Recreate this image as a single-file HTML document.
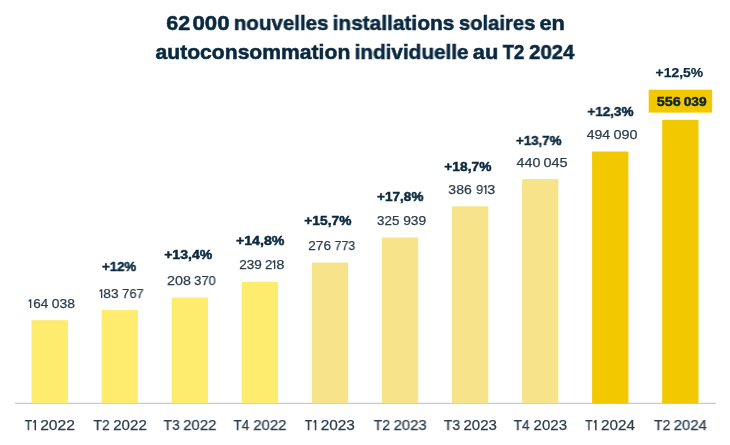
<!DOCTYPE html><html><head><meta charset="utf-8"><style>
html,body{margin:0;padding:0;background:#fff;width:730px;height:445px;overflow:hidden;position:relative}
.t{position:absolute;white-space:pre;line-height:1;font-family:"Liberation Sans",sans-serif;transform-origin:0 0;will-change:transform}
.b{position:absolute}
#w{position:absolute;left:0;top:0;width:730px;height:445px;background:#fff;filter:blur(0.3px)}
</style></head><body><div id="w">
<svg class="b" style="left:0;top:0" width="730" height="445" viewBox="0 0 730 445">
<rect x="15" y="402.8" width="701" height="1.2" fill="#c8c8c8"/>
<rect x="31.55" y="320.18" width="36.30" height="83.07" fill="#FDEC6E"/>
<rect x="101.62" y="310.10" width="36.30" height="93.15" fill="#FDEC6E"/>
<rect x="171.69" y="297.52" width="36.30" height="105.73" fill="#FDEC6E"/>
<rect x="241.76" y="281.76" width="36.30" height="121.49" fill="#FDEC6E"/>
<rect x="311.83" y="262.57" width="36.30" height="140.68" fill="#F7E48A"/>
<rect x="381.90" y="237.45" width="36.30" height="165.80" fill="#F7E48A"/>
<rect x="451.97" y="206.29" width="36.30" height="196.96" fill="#F7E48A"/>
<rect x="522.04" y="179.14" width="36.30" height="224.11" fill="#F7E48A"/>
<rect x="592.11" y="151.52" width="36.30" height="251.73" fill="#F2C800"/>
<rect x="662.18" y="119.86" width="36.30" height="283.39" fill="#F2C800"/>
<rect x="648.7" y="89.7" width="63.5" height="22.9" fill="#F2C800"/>
<path d="M34.55 420.1H36.05V430.3H34.55V422.3L33.25 423.1V421.5Z" fill="#2c3e4c"/>
<path d="M314.83 420.1H316.33V430.3H314.83V422.3L313.53 423.1V421.5Z" fill="#2c3e4c"/>
<path d="M595.11 420.1H596.61V430.3H595.11V422.3L593.81 423.1V421.5Z" fill="#2c3e4c"/>
<path d="M29.95 299.24H31.30V308.05H29.95V301.14L28.50 301.84V300.54Z" fill="#2c3e4a"/>
<path d="M100.95 289.24H102.30V298.06H100.95V291.14L99.50 291.84V290.54Z" fill="#2c3e4a"/>
<path d="M273.95 260.26H275.30V269.11H273.95V262.16L272.50 262.86V261.56Z" fill="#2c3e4a"/>
<path d="M485.15 185.20H486.50V194.03H485.15V187.10L483.70 187.80V186.50Z" fill="#2c3e4a"/>
</svg>
<div class="t" style="left:166px;top:12.15px;font-size:21.00px;font-weight:700;color:#0a2940;transform:translateX(0.249px) scaleX(1.0216);-webkit-text-stroke:0.55px #0a2940">62</div>
<div class="t" style="left:192px;top:12.15px;font-size:21.00px;font-weight:700;color:#0a2940;transform:translateX(0.420px) scaleX(1.0587);-webkit-text-stroke:0.55px #0a2940">000</div>
<div class="t" style="left:233px;top:12.15px;font-size:21.00px;font-weight:700;color:#0a2940;transform:translateX(0.815px) scaleX(0.9765);-webkit-text-stroke:0.55px #0a2940">nouvelles</div>
<div class="t" style="left:332px;top:12.15px;font-size:21.00px;font-weight:700;color:#0a2940;transform:translateX(0.573px) scaleX(0.9942);-webkit-text-stroke:0.55px #0a2940">installations</div>
<div class="t" style="left:458px;top:12.15px;font-size:21.00px;font-weight:700;color:#0a2940;transform:translateX(0.928px) scaleX(0.9628);-webkit-text-stroke:0.55px #0a2940">solaires</div>
<div class="t" style="left:539px;top:12.15px;font-size:21.00px;font-weight:700;color:#0a2940;transform:translateX(0.390px) scaleX(1.0371);-webkit-text-stroke:0.55px #0a2940">en</div>
<div class="t" style="left:155px;top:40.65px;font-size:21.00px;font-weight:700;color:#0a2940;transform:translateX(0.490px) scaleX(1.0058);-webkit-text-stroke:0.55px #0a2940">autoconsommation</div>
<div class="t" style="left:354px;top:40.65px;font-size:21.00px;font-weight:700;color:#0a2940;transform:translateX(0.583px) scaleX(0.9865);-webkit-text-stroke:0.55px #0a2940">individuelle</div>
<div class="t" style="left:472px;top:40.65px;font-size:21.00px;font-weight:700;color:#0a2940;transform:translateX(0.783px) scaleX(1.0430);-webkit-text-stroke:0.55px #0a2940">au</div>
<div class="t" style="left:502px;top:40.65px;font-size:21.00px;font-weight:700;color:#0a2940;transform:translateX(0.660px) scaleX(0.8840);-webkit-text-stroke:0.55px #0a2940">T2</div>
<div class="t" style="left:529px;top:40.65px;font-size:21.00px;font-weight:700;color:#0a2940;transform:translateX(0.130px) scaleX(0.9695);-webkit-text-stroke:0.55px #0a2940">2024</div>
<div class="t" style="left:33px;top:296.51px;font-size:13.29px;font-weight:400;color:#2c3e4a;transform:translateX(0.183px) scaleX(1.0143);-webkit-text-stroke:0.25px #2c3e4a">64</div>
<div class="t" style="left:51px;top:296.51px;font-size:13.29px;font-weight:400;color:#2c3e4a;transform:translateX(0.653px) scaleX(1.0476);-webkit-text-stroke:0.25px #2c3e4a">038</div>
<div class="t" style="left:103px;top:287.01px;font-size:13.29px;font-weight:400;color:#2c3e4a;transform:translateX(0.306px) scaleX(1.0370);-webkit-text-stroke:0.25px #2c3e4a">83</div>
<div class="t" style="left:122px;top:287.01px;font-size:13.29px;font-weight:400;color:#2c3e4a;transform:translateX(0.054px) scaleX(0.9732);-webkit-text-stroke:0.25px #2c3e4a">767</div>
<div class="t" style="left:167px;top:273.81px;font-size:13.29px;font-weight:400;color:#2c3e4a;transform:translateX(0.062px) scaleX(1.0804);-webkit-text-stroke:0.25px #2c3e4a">208</div>
<div class="t" style="left:194px;top:273.81px;font-size:13.29px;font-weight:400;color:#2c3e4a;transform:translateX(0.129px) scaleX(0.9744);-webkit-text-stroke:0.25px #2c3e4a">370</div>
<div class="t" style="left:239px;top:258.31px;font-size:13.29px;font-weight:400;color:#2c3e4a;transform:translateX(0.211px) scaleX(1.0204);-webkit-text-stroke:0.25px #2c3e4a">239</div>
<div class="t" style="left:265px;top:258.31px;font-size:13.29px;font-weight:400;color:#2c3e4a;transform:translateX(0.130px) scaleX(0.9863);-webkit-text-stroke:0.25px #2c3e4a">2</div>
<div class="t" style="left:276px;top:258.31px;font-size:13.29px;font-weight:400;color:#2c3e4a;transform:translateX(0.308px) scaleX(1.1197);-webkit-text-stroke:0.25px #2c3e4a">8</div>
<div class="t" style="left:308px;top:238.61px;font-size:13.29px;font-weight:400;color:#2c3e4a;transform:translateX(0.315px) scaleX(1.0224);-webkit-text-stroke:0.25px #2c3e4a">276</div>
<div class="t" style="left:334px;top:238.61px;font-size:13.29px;font-weight:400;color:#2c3e4a;transform:translateX(0.560px) scaleX(0.9310);-webkit-text-stroke:0.25px #2c3e4a">773</div>
<div class="t" style="left:377px;top:213.81px;font-size:13.29px;font-weight:400;color:#2c3e4a;transform:translateX(0.033px) scaleX(1.0066);-webkit-text-stroke:0.25px #2c3e4a">325</div>
<div class="t" style="left:403px;top:213.81px;font-size:13.29px;font-weight:400;color:#2c3e4a;transform:translateX(0.160px) scaleX(1.0401);-webkit-text-stroke:0.25px #2c3e4a">939</div>
<div class="t" style="left:448px;top:182.61px;font-size:13.29px;font-weight:400;color:#2c3e4a;transform:translateX(0.350px) scaleX(1.0560);-webkit-text-stroke:0.25px #2c3e4a">386</div>
<div class="t" style="left:476px;top:182.61px;font-size:13.29px;font-weight:400;color:#2c3e4a;transform:translateX(0.199px) scaleX(0.9472);-webkit-text-stroke:0.25px #2c3e4a">9</div>
<div class="t" style="left:487px;top:182.61px;font-size:13.29px;font-weight:400;color:#2c3e4a;transform:translateX(0.307px) scaleX(1.0797);-webkit-text-stroke:0.25px #2c3e4a">3</div>
<div class="t" style="left:516px;top:155.51px;font-size:13.29px;font-weight:400;color:#2c3e4a;transform:translateX(0.621px) scaleX(1.0747);-webkit-text-stroke:0.25px #2c3e4a">440</div>
<div class="t" style="left:543px;top:155.51px;font-size:13.29px;font-weight:400;color:#2c3e4a;transform:translateX(0.415px) scaleX(1.0881);-webkit-text-stroke:0.25px #2c3e4a">045</div>
<div class="t" style="left:586px;top:127.71px;font-size:13.29px;font-weight:400;color:#2c3e4a;transform:translateX(0.631px) scaleX(1.0588);-webkit-text-stroke:0.25px #2c3e4a">494</div>
<div class="t" style="left:613px;top:127.71px;font-size:13.29px;font-weight:400;color:#2c3e4a;transform:translateX(0.499px) scaleX(1.0843);-webkit-text-stroke:0.25px #2c3e4a">090</div>
<div class="t" style="left:656px;top:94.51px;font-size:13.29px;font-weight:700;color:#0f2530;transform:translateX(0.778px) scaleX(1.0847);-webkit-text-stroke:0.45px #0f2530">556</div>
<div class="t" style="left:683px;top:94.51px;font-size:13.29px;font-weight:700;color:#0f2530;transform:translateX(0.672px) scaleX(1.0379);-webkit-text-stroke:0.45px #0f2530">039</div>
<div class="t" style="left:102px;top:260.34px;font-size:13.60px;font-weight:700;color:#0a2940;transform:translateX(0.009px) scaleX(0.9745);-webkit-text-stroke:0.5px #0a2940">+12%</div>
<div class="t" style="left:164px;top:248.04px;font-size:13.60px;font-weight:700;color:#0a2940;transform:translateX(0.142px) scaleX(1.0343);-webkit-text-stroke:0.5px #0a2940">+13,4%</div>
<div class="t" style="left:235px;top:233.64px;font-size:13.60px;font-weight:700;color:#0a2940;transform:translateX(0.877px) scaleX(1.0456);-webkit-text-stroke:0.5px #0a2940">+14,8%</div>
<div class="t" style="left:304px;top:214.44px;font-size:13.60px;font-weight:700;color:#0a2940;transform:translateX(0.329px) scaleX(1.0130);-webkit-text-stroke:0.5px #0a2940">+15,7%</div>
<div class="t" style="left:377px;top:189.94px;font-size:13.60px;font-weight:700;color:#0a2940;transform:translateX(0.030px) scaleX(0.9957);-webkit-text-stroke:0.5px #0a2940">+17,8%</div>
<div class="t" style="left:444px;top:160.04px;font-size:13.60px;font-weight:700;color:#0a2940;transform:translateX(0.329px) scaleX(1.0130);-webkit-text-stroke:0.5px #0a2940">+18,7%</div>
<div class="t" style="left:516px;top:134.34px;font-size:13.60px;font-weight:700;color:#0a2940;transform:translateX(0.012px) scaleX(0.9778);-webkit-text-stroke:0.5px #0a2940">+13,7%</div>
<div class="t" style="left:587px;top:104.84px;font-size:13.60px;font-weight:700;color:#0a2940;transform:translateX(0.446px) scaleX(0.9890);-webkit-text-stroke:0.5px #0a2940">+12,3%</div>
<div class="t" style="left:655px;top:66.04px;font-size:13.60px;font-weight:700;color:#0a2940;transform:translateX(0.609px) scaleX(1.0213);-webkit-text-stroke:0.25px #0a2940">+12,5%</div>
<div class="t" style="left:24px;top:417.15px;font-size:15.00px;font-weight:400;color:#2c3e4c;transform:translateX(0.730px) scaleX(0.7916);-webkit-text-stroke:0.25px #2c3e4c">T</div>
<div class="t" style="left:40px;top:417.15px;font-size:15.00px;font-weight:400;color:#2c3e4c;transform:translateX(0.129px) scaleX(1.0439);-webkit-text-stroke:0.25px #2c3e4c">2022</div>
<div class="t" style="left:93px;top:417.15px;font-size:15.00px;font-weight:400;color:#2c3e4c;transform:translateX(0.414px) scaleX(0.9266);-webkit-text-stroke:0.25px #2c3e4c">T2</div>
<div class="t" style="left:113px;top:417.15px;font-size:15.00px;font-weight:400;color:#2c3e4c;transform:translateX(0.227px) scaleX(1.0055);-webkit-text-stroke:0.25px #2c3e4c">2022</div>
<div class="t" style="left:163px;top:417.15px;font-size:15.00px;font-weight:400;color:#2c3e4c;transform:translateX(0.520px) scaleX(0.9252);-webkit-text-stroke:0.25px #2c3e4c">T3</div>
<div class="t" style="left:183px;top:417.15px;font-size:15.00px;font-weight:400;color:#2c3e4c;transform:translateX(0.193px) scaleX(0.9977);-webkit-text-stroke:0.25px #2c3e4c">2022</div>
<div class="t" style="left:233px;top:417.15px;font-size:15.00px;font-weight:400;color:#2c3e4c;transform:translateX(0.609px) scaleX(0.8861);-webkit-text-stroke:0.25px #2c3e4c">T4</div>
<div class="t" style="left:253px;top:417.15px;font-size:15.00px;font-weight:400;color:#2c3e4c;transform:translateX(0.351px) scaleX(0.9933);-webkit-text-stroke:0.25px #2c3e4c">2022</div>
<div class="t" style="left:304px;top:417.15px;font-size:15.00px;font-weight:400;color:#2c3e4c;transform:translateX(0.846px) scaleX(0.8125);-webkit-text-stroke:0.25px #2c3e4c">T</div>
<div class="t" style="left:320px;top:417.15px;font-size:15.00px;font-weight:400;color:#2c3e4c;transform:translateX(0.634px) scaleX(1.0273);-webkit-text-stroke:0.25px #2c3e4c">2023</div>
<div class="t" style="left:373px;top:417.15px;font-size:15.00px;font-weight:400;color:#2c3e4c;transform:translateX(0.752px) scaleX(0.9256);-webkit-text-stroke:0.25px #2c3e4c">T2</div>
<div class="t" style="left:393px;top:417.15px;font-size:15.00px;font-weight:400;color:#2c3e4c;transform:translateX(0.643px) scaleX(0.9900);-webkit-text-stroke:0.25px #2c3e4c">2023</div>
<div class="t" style="left:443px;top:417.15px;font-size:15.00px;font-weight:400;color:#2c3e4c;transform:translateX(0.834px) scaleX(0.9253);-webkit-text-stroke:0.25px #2c3e4c">T3</div>
<div class="t" style="left:463px;top:417.15px;font-size:15.00px;font-weight:400;color:#2c3e4c;transform:translateX(0.472px) scaleX(1.0024);-webkit-text-stroke:0.25px #2c3e4c">2023</div>
<div class="t" style="left:513px;top:417.15px;font-size:15.00px;font-weight:400;color:#2c3e4c;transform:translateX(0.691px) scaleX(0.9071);-webkit-text-stroke:0.25px #2c3e4c">T4</div>
<div class="t" style="left:533px;top:417.15px;font-size:15.00px;font-weight:400;color:#2c3e4c;transform:translateX(0.566px) scaleX(1.0018);-webkit-text-stroke:0.25px #2c3e4c">2023</div>
<div class="t" style="left:585px;top:417.15px;font-size:15.00px;font-weight:400;color:#2c3e4c;transform:translateX(0.252px) scaleX(0.8014);-webkit-text-stroke:0.25px #2c3e4c">T</div>
<div class="t" style="left:600px;top:417.15px;font-size:15.00px;font-weight:400;color:#2c3e4c;transform:translateX(0.936px) scaleX(1.0190);-webkit-text-stroke:0.25px #2c3e4c">2024</div>
<div class="t" style="left:654px;top:417.15px;font-size:15.00px;font-weight:400;color:#2c3e4c;transform:translateX(0.058px) scaleX(0.9231);-webkit-text-stroke:0.25px #2c3e4c">T2</div>
<div class="t" style="left:673px;top:417.15px;font-size:15.00px;font-weight:400;color:#2c3e4c;transform:translateX(0.678px) scaleX(0.9950);-webkit-text-stroke:0.25px #2c3e4c">2024</div>
</div></body></html>
